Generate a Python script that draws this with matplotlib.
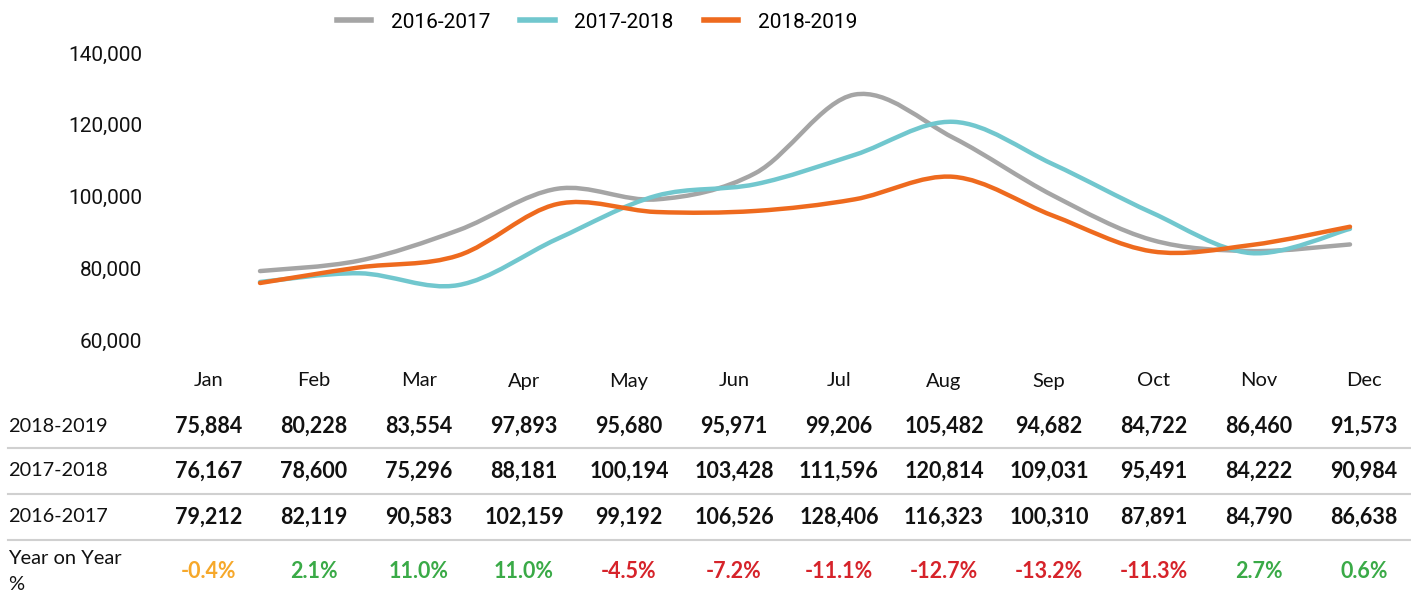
import matplotlib.pyplot as plt
import numpy as np
from matplotlib.path import Path
from matplotlib.patches import PathPatch
from matplotlib.lines import Line2D

plt.rcParams['font.family'] = ['Lato', 'DejaVu Sans']

# data
months = ['Jan', 'Feb', 'Mar', 'Apr', 'May', 'Jun', 'Jul', 'Aug', 'Sep', 'Oct', 'Nov', 'Dec']
s_2016_2017 = [79212, 82119, 90583, 102159, 99192, 106526, 128406, 116323, 100310, 87891, 84790, 86638]
s_2017_2018 = [76167, 78600, 75296, 88181, 100194, 103428, 111596, 120814, 109031, 95491, 84222, 90984]
s_2018_2019 = [75884, 80228, 83554, 97893, 95680, 95971, 99206, 105482, 94682, 84722, 86460, 91573]
yoy = [-0.4, 2.1, 11.0, 11.0, -4.5, -7.2, -11.1, -12.7, -13.2, -11.3, 2.7, 0.6]
series_names = ['2016-2017', '2017-2018', '2018-2019']
yticks = [60000, 80000, 100000, 120000, 140000]

colors = {'2016-2017': '#A5A5A5', '2017-2018': '#71C7CE', '2018-2019': '#EE6A1E'}

W, H = 1411, 594
fig = plt.figure(figsize=(W / 100, H / 100), dpi=100)

def fx(px):
    return px / W

def fy(py):
    return 1 - py / H

# chart area: Jan at x=260, Dec at x=1350; 60k at y=340, 140k at y=53
ax = fig.add_axes([fx(260), fy(340), fx(1350 - 260), (340 - 53) / H])
ax.set_xlim(0, 11)
ax.set_ylim(60000, 140000)
for sp in ax.spines.values():
    sp.set_visible(False)
ax.set_xticks([])
ax.set_yticks(yticks)
ax.set_yticklabels([f'{v:,}' for v in yticks], fontfamily='Roboto', fontsize=15, color='#111111')
ax.tick_params(axis='y', length=0, pad=85)


def smooth_path(xs, ys):
    # bezier smoothing like a spreadsheet "smoothed line"
    n = len(xs)
    verts = [(xs[0], ys[0])]
    codes = [Path.MOVETO]
    for i in range(n - 1):
        a = max(i - 1, 0)
        b = min(i + 2, n - 1)
        c1 = (xs[i] + (xs[i + 1] - xs[a]) / 6, ys[i] + (ys[i + 1] - ys[a]) / 6)
        c2 = (xs[i + 1] - (xs[b] - xs[i]) / 6, ys[i + 1] - (ys[b] - ys[i]) / 6)
        verts += [c1, c2, (xs[i + 1], ys[i + 1])]
        codes += [Path.CURVE4] * 3
    return Path(verts, codes)


xs = np.arange(len(months))
for name, vals in zip(series_names, [s_2016_2017, s_2017_2018, s_2018_2019]):
    patch = PathPatch(smooth_path(xs, vals), fill=False, edgecolor=colors[name],
                      lw=3.2, capstyle='round', joinstyle='round', clip_on=False)
    ax.add_patch(patch)

handles = [Line2D([], [], color=colors[n], lw=4) for n in series_names]
fig.legend(handles, series_names, loc='center', bbox_to_anchor=(fx(597), fy(22)),
           ncol=3, frameon=False, handlelength=1.65, columnspacing=1.45,
           handletextpad=0.95, prop={'family': 'Roboto', 'size': 15})

# table
col_x = [209 + i * 105 for i in range(12)]
for x, m in zip(col_x, months):
    fig.text(fx(x), fy(381), m, ha='center', va='center', fontsize=14.5, color='#111111')

rows = [('2018-2019', s_2018_2019, 426), ('2017-2018', s_2017_2018, 471), ('2016-2017', s_2016_2017, 517)]
for label, vals, y in rows:
    fig.text(fx(8), fy(y), label, ha='left', va='center', fontsize=14.3, color='#111111')
    for x, v in zip(col_x, vals):
        fig.text(fx(x), fy(y), f'{v:,}', ha='center', va='center', fontsize=15.5,
                 fontweight='bold', color='#111111')

for y in [448, 494, 540]:
    fig.add_artist(Line2D([fx(8), 1], [fy(y), fy(y)], color='#D0D0D0', lw=1.5))

fig.text(fx(8), fy(558), 'Year on Year', ha='left', va='center', fontsize=14.5, color='#111111')
fig.text(fx(8), fy(584), '%', ha='left', va='center', fontsize=14.5, color='#111111')
for x, v in zip(col_x, yoy):
    if v > 0:
        c = '#3AAA47'
    elif v > -1:
        c = '#F6A82A'
    else:
        c = '#D6232A'
    fig.text(fx(x), fy(572), f'{v:.1f}%', ha='center', va='center', fontsize=15.5,
             fontweight='bold', color=c)

fig.savefig('out.png', dpi=100)
